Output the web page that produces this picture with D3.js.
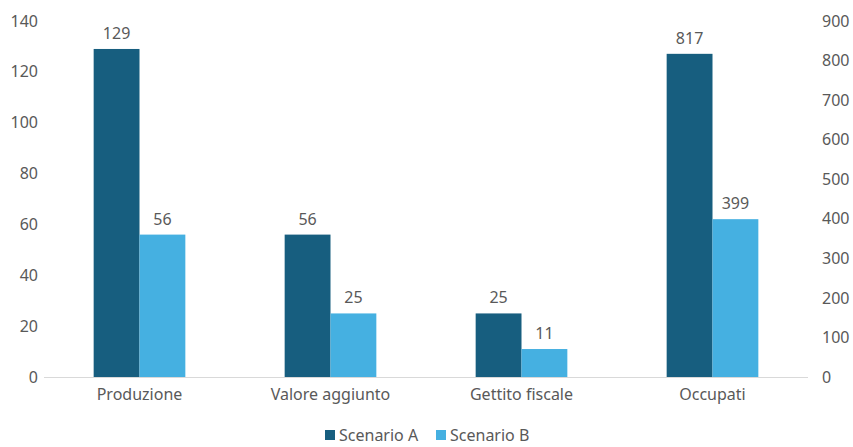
<!DOCTYPE html>
<html>
<head>
<meta charset="utf-8">
<script src="https://cdn.jsdelivr.net/npm/d3@7"></script>
<style>
  body { margin: 0; background: #fff; }
  text { font-family: "Noto Sans", "Open Sans", sans-serif; fill: #595959; }
</style>
</head>
<body>
<div id="chart"></div>
<script>
// Chart data.
const categories = ['Produzione', 'Valore aggiunto', 'Gettito fiscale', 'Occupati'];
const seriesNames = ['Scenario A', 'Scenario B'];
const scenarioA = [129, 56, 25, 817];
const scenarioB = [56, 25, 11, 399];
// Which axis each category uses (Occupati is on the right one).
const axisSide = ['left', 'left', 'left', 'right'];
const leftTicks = [0, 20, 40, 60, 80, 100, 120, 140];
const rightTicks = [0, 100, 200, 300, 400, 500, 600, 700, 800, 900];
const colors = ['#175e7f', '#45b0e1'];

const width = 853, height = 447;
const margin = {top: 21, right: 45, bottom: 70, left: 44};
const fontSize = '16px';

const svg = d3.select('#chart').append('svg')
    .attr('width', width)
    .attr('height', height);

const x = d3.scaleBand()
    .domain(categories)
    .range([margin.left, width - margin.right]);

const yLeft = d3.scaleLinear().domain([0, 140]).range([height - margin.bottom, margin.top]);
const yRight = d3.scaleLinear().domain([0, 900]).range([height - margin.bottom, margin.top]);

const groupWidth = x.bandwidth() * 0.48;
const xInner = d3.scaleBand().domain(seriesNames).range([0, groupWidth]);

// Left axis.
svg.append('g')
    .attr('transform', `translate(${margin.left},0)`)
    .call(d3.axisLeft(yLeft).tickValues(leftTicks).tickSize(0).tickPadding(6))
    .call(g => g.select('.domain').remove());

// Right axis.
svg.append('g')
    .attr('transform', `translate(${width - margin.right},0)`)
    .call(d3.axisRight(yRight).tickValues(rightTicks).tickSize(0).tickPadding(14))
    .call(g => g.select('.domain').remove());

svg.selectAll('.tick text')
    .style('font-size', fontSize)
    .style('font-family', '"Noto Sans", sans-serif')
    .attr('fill', '#595959');

// Build rows.
const rows = categories.map((c, i) => ({
    cat: c,
    side: axisSide[i],
    values: [scenarioA[i], scenarioB[i]]
}));

const scaleFor = side => side === 'left' ? yLeft : yRight;

const groups = svg.selectAll('.group')
    .data(rows)
    .join('g')
    .attr('class', 'group')
    .attr('transform', d => `translate(${x(d.cat) + (x.bandwidth() - groupWidth) / 2},0)`);

groups.selectAll('rect')
    .data(d => d.values.map((v, j) => ({v, j, side: d.side})))
    .join('rect')
    .attr('x', d => xInner(seriesNames[d.j]))
    .attr('width', xInner.bandwidth())
    .attr('y', d => scaleFor(d.side)(d.v))
    .attr('height', d => yLeft(0) - scaleFor(d.side)(d.v))
    .attr('fill', d => colors[d.j]);

groups.selectAll('.val')
    .data(d => d.values.map((v, j) => ({v, j, side: d.side})))
    .join('text')
    .attr('class', 'val')
    .attr('x', d => xInner(seriesNames[d.j]) + xInner.bandwidth() / 2)
    .attr('y', d => scaleFor(d.side)(d.v) - 10)
    .attr('text-anchor', 'middle')
    .style('font-size', fontSize)
    .text(d => d.v);

// Baseline.
svg.append('line')
    .attr('x1', margin.left)
    .attr('x2', width - margin.right)
    .attr('y1', yLeft(0) + 0.5)
    .attr('y2', yLeft(0) + 0.5)
    .attr('stroke', '#d9d9d9')
    .attr('stroke-width', 1);

// Category labels.
svg.selectAll('.cat')
    .data(categories)
    .join('text')
    .attr('class', 'cat')
    .attr('x', d => x(d) + x.bandwidth() / 2)
    .attr('y', yLeft(0) + 23)
    .attr('text-anchor', 'middle')
    .style('font-size', fontSize)
    .text(d => d);

// Legend.
const legend = svg.append('g').attr('transform', 'translate(325,441)');
const legendX = [0, 111];
seriesNames.forEach((s, i) => {
    legend.append('rect')
        .attr('x', legendX[i])
        .attr('y', -11)
        .attr('width', 10)
        .attr('height', 10)
        .attr('fill', colors[i]);
    legend.append('text')
        .attr('x', legendX[i] + 14)
        .attr('y', 0)
        .style('font-size', fontSize)
        .text(s);
});
</script>
</body>
</html>
